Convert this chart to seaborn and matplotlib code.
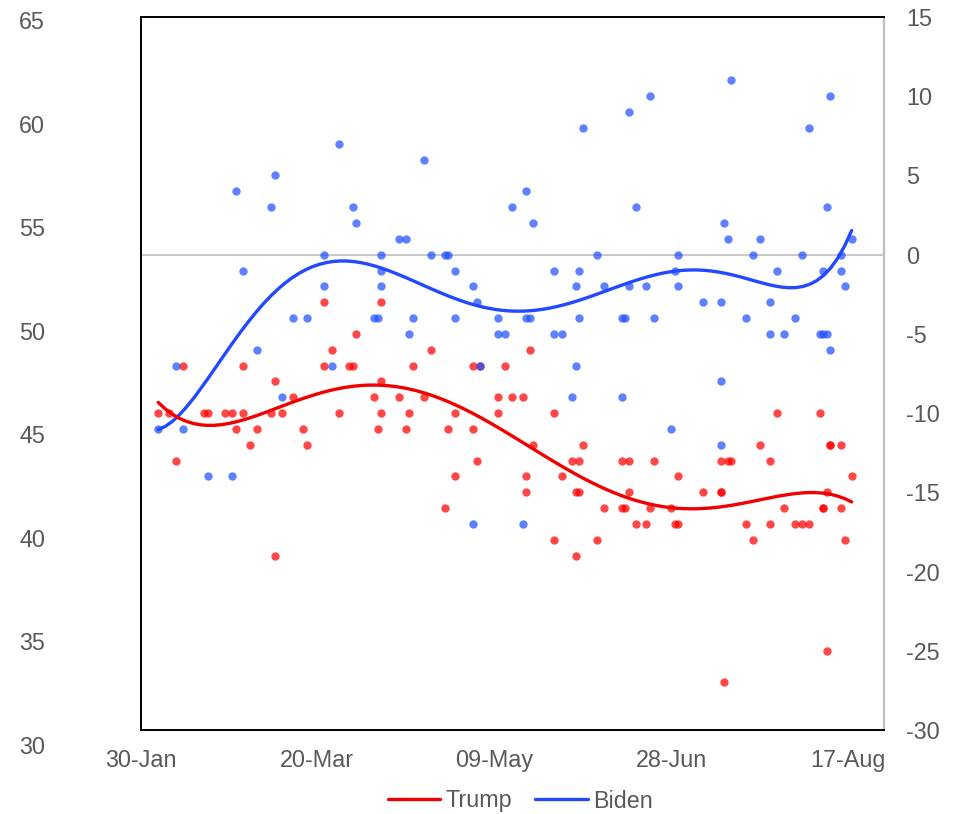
import matplotlib
import matplotlib.pyplot as plt
import seaborn as sns
from matplotlib.lines import Line2D

matplotlib.use("Agg")

# x = days after 30 Jan 2020, y = value on the right-hand scale
trump_days = [5, 8, 10, 12, 18, 19, 24, 26, 27, 29, 29, 31, 33, 37, 38, 38, 40, 43, 46, 47,
              52, 52, 54, 56, 59, 60, 61, 66, 67, 68, 68, 68,
              73, 75, 76, 77, 80, 82, 86, 87, 89, 89, 94, 94, 95, 96, 101, 101, 103, 105,
              108, 109, 109, 110, 111, 117, 117, 119, 122, 123, 123, 124, 124, 125, 129,
              131, 136, 136, 137, 138, 138,
              140, 143, 144, 145, 150, 151, 152, 152, 159, 164, 164, 164, 165, 166, 167,
              171, 173, 175, 178, 178, 180, 182, 185, 187, 189, 192, 193, 193, 194, 194,
              195, 195, 198, 198, 199, 201]
trump_vals = [-10, -10, -13, -7, -10, -10, -10, -10, -11, -7, -10, -12, -11, -10, -8, -19, -10, -9, -11, -12,
              -3, -7, -6, -10, -7, -7, -5, -9, -11, -3, -8, -10,
              -9, -11, -10, -7, -9, -6, -16, -11, -10, -14, -7, -11, -13, -7, -9, -10, -7, -9,
              -9, -14, -15, -6, -12, -10, -18, -14, -13, -15, -19, -13, -15, -12, -18,
              -16, -13, -16, -16, -13, -15,
              -17, -17, -16, -13, -16, -17, -14, -17, -15, -13, -15, -15, -27, -13, -13,
              -17, -18, -12, -13, -17, -10, -16, -17, -17, -17, -10, -16, -16, -15, -25,
              -12, -12, -12, -16, -18, -14]

biden_days = [5, 10, 12, 19, 26, 27, 29, 33, 37, 38, 40, 43, 47, 52, 52, 54, 56, 60, 61,
              66, 67, 68, 68, 68,
              73, 75, 76, 77, 80, 82, 86, 87, 89, 89, 94, 94, 95, 96, 101, 101, 103, 105,
              108, 109, 109, 110, 111, 117, 117, 119, 122, 123, 123, 124, 124, 125, 129,
              131, 136, 136, 137, 138, 138,
              140, 143, 144, 145, 150, 151, 152, 152, 159, 164, 164, 164, 165, 166, 167,
              171, 173, 175, 178, 178, 180, 182, 185, 187, 189, 192, 193, 193, 194, 194,
              195, 195, 198, 198, 199, 201]
biden_vals = [-11, -7, -11, -14, -14, 4, -1, -6, 3, 5, -9, -4, -4, 0, -2, -7, 7, 3, 2,
              -4, -4, 0, -1, -2,
              1, 1, -5, -4, 6, 0, 0, 0, -1, -4, -2, -17, -3, -7, -4, -5, -5, 3,
              -17, 4, -4, -4, 2, -1, -5, -5, -9, -2, -7, -1, -4, 8, 0,
              -2, -4, -9, -4, 9, -2,
              3, -2, 10, -4, -11, -1, 0, -2, -3, -3, -8, -12, 2, 1, 11,
              -4, 0, 1, -3, -5, -1, -5, -4, 0, 8, -5, -1, -5, 3, -5,
              10, -6, 0, -1, -2, 1]

x_tick_days = [0, 50, 100, 150, 200]
x_tick_labels = ["30-Jan", "20-Mar", "09-May", "28-Jun", "17-Aug"]
right_ticks = [-30, -25, -20, -15, -10, -5, 0, 5, 10, 15]
left_ticks = [30, 35, 40, 45, 50, 55, 60, 65]

TRUMP_LINE = "#f00000"
BIDEN_LINE = "#2349ff"
TEXT = "#595959"
FS = 16.8

sns.set_style("white")
plt.rcParams["font.family"] = ["Liberation Sans", "DejaVu Sans"]
plt.rcParams["axes.unicode_minus"] = False

W, H = 956, 814
fig = plt.figure(figsize=(W / 100, H / 100), dpi=100)
ax = fig.add_axes([140.5 / W, 84 / H, 743 / W, 713 / H])

ax.axhline(0, color="#bfbfbf", lw=1.2, zorder=0)

sns.scatterplot(x=trump_days, y=trump_vals, color="#ff0000", alpha=0.72, s=36,
                linewidth=0, ax=ax, zorder=2)
sns.scatterplot(x=biden_days, y=biden_vals, color="#1e50ff", alpha=0.72, s=36,
                linewidth=0, ax=ax, zorder=3)

# polynomial trend lines, like the spreadsheet trendlines
sns.regplot(x=biden_days, y=biden_vals, order=6, scatter=False, ci=None, ax=ax,
            line_kws=dict(color=BIDEN_LINE, lw=2.4, zorder=4))
sns.regplot(x=trump_days, y=trump_vals, order=6, scatter=False, ci=None, ax=ax,
            line_kws=dict(color=TRUMP_LINE, lw=2.4, zorder=5))

ax.set_xlim(0, 210)
ax.set_ylim(-30, 15)
ax.set_xlabel("")
ax.set_ylabel("")
ax.set_xticks(x_tick_days, x_tick_labels)
ax.set_yticks(right_ticks)
ax.yaxis.tick_right()
ax.tick_params(axis="both", length=0, labelsize=FS, labelcolor=TEXT)
ax.tick_params(axis="x", pad=14)
ax.tick_params(axis="y", pad=16.5)
for side in ["left", "top", "bottom"]:
    ax.spines[side].set_color("black")
    ax.spines[side].set_linewidth(1.4)
ax.spines["right"].set_color("#bfbfbf")
ax.spines["right"].set_linewidth(1.6)

# left scale sits on its own thin axes (its labels run past the frame)
ax_l = fig.add_axes([45 / W, 69 / H, 0.001, 725 / H])
ax_l.set_ylim(30, 65)
ax_l.set_yticks(left_ticks)
ax_l.set_xticks([])
ax_l.tick_params(axis="y", length=0, pad=0, labelsize=FS, labelcolor=TEXT)
for sp in ax_l.spines.values():
    sp.set_visible(False)
ax_l.patch.set_visible(False)

handles = [Line2D([], [], color=TRUMP_LINE, lw=2.4), Line2D([], [], color=BIDEN_LINE, lw=2.4)]
fig.legend(handles, ["Trump", "Biden"], loc="center", bbox_to_anchor=(520 / W, 13 / H),
           ncol=2, frameon=False, fontsize=FS, labelcolor=TEXT, handlelength=2.27,
           handletextpad=0.2, columnspacing=1.0)

fig.savefig("out.png", dpi=100)
